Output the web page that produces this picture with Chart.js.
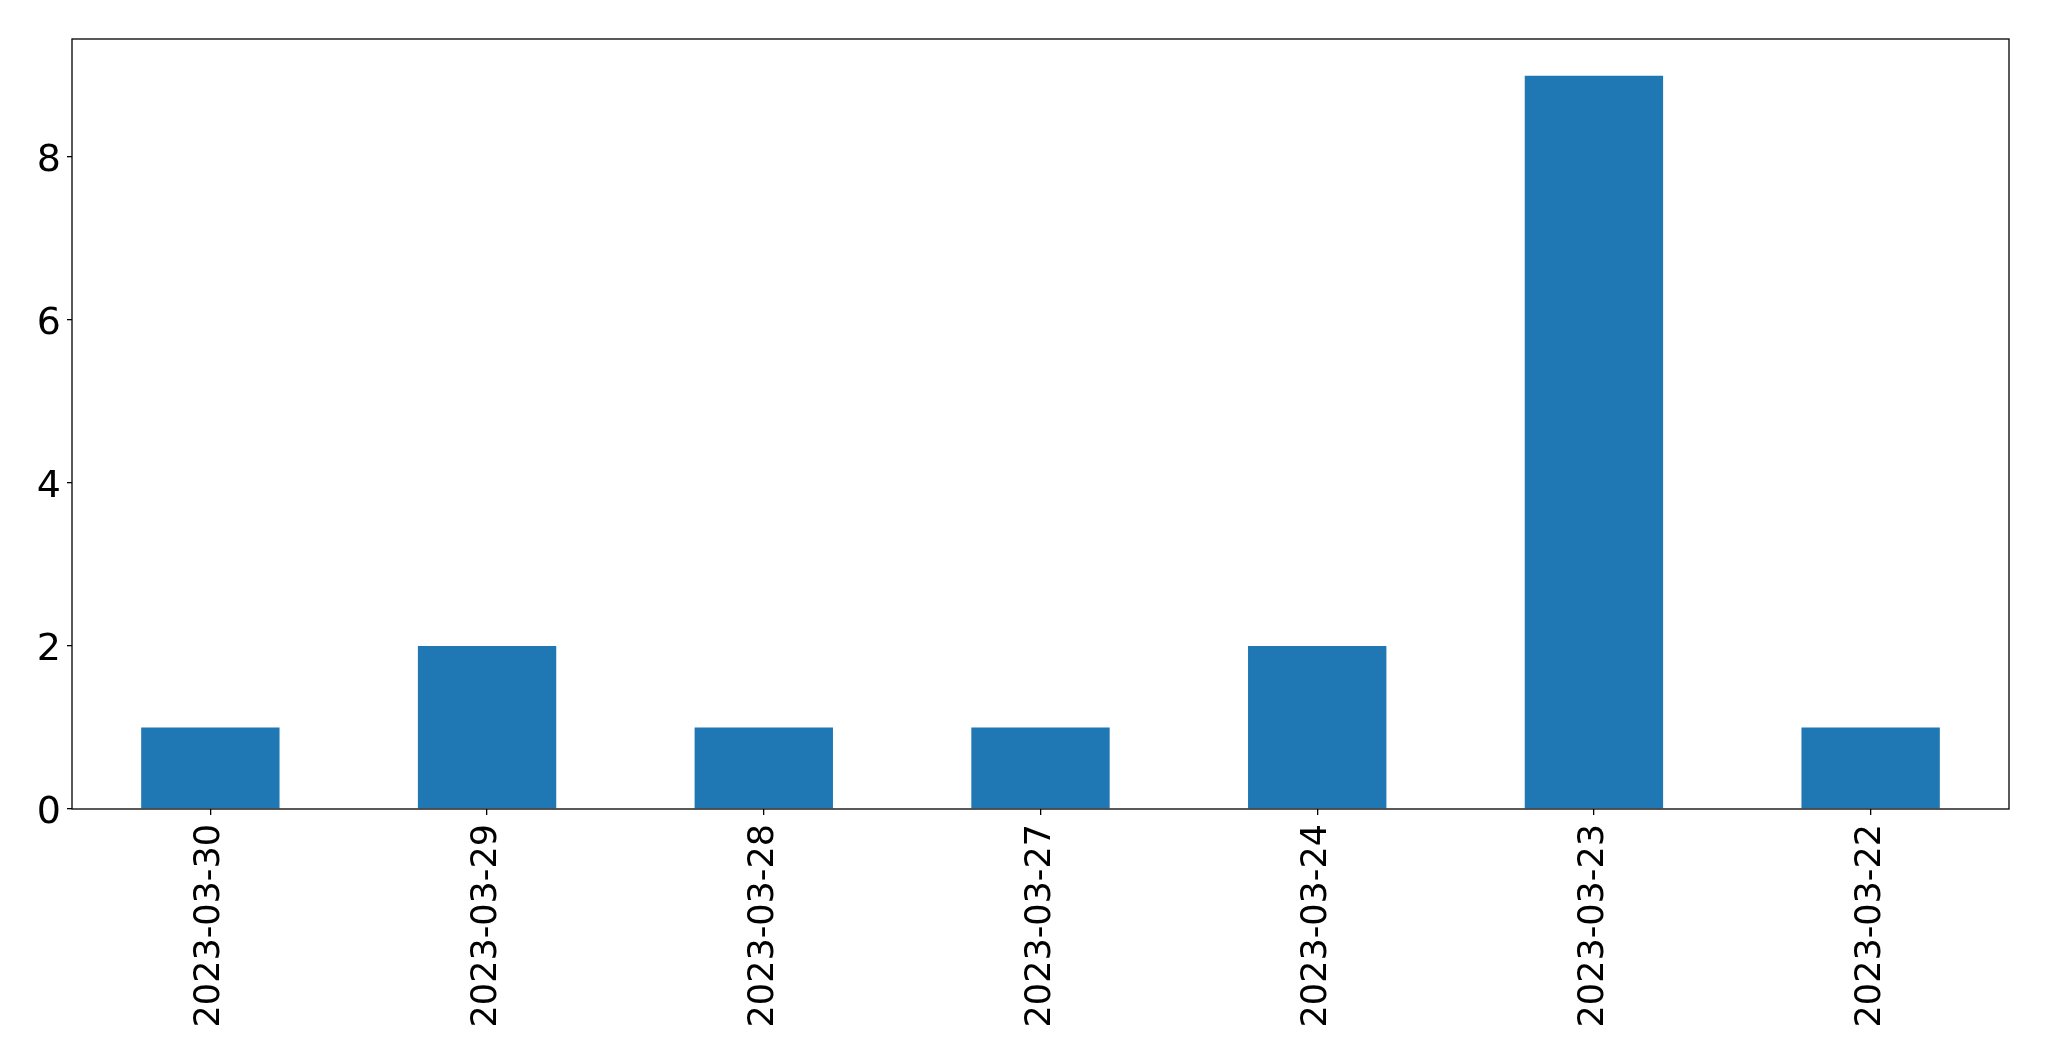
<!DOCTYPE html>
<html>
<head>
<meta charset="utf-8">
<script src="https://cdn.jsdelivr.net/npm/chart.js@4"></script>
<style>
  html, body { margin: 0; padding: 0; background: #fff; }
  #wrap { width: 2049px; height: 1061px; }
</style>
</head>
<body>
<div id="wrap"><canvas id="chart"></canvas></div>
<script>
// ===== Data =====
const dates = ["2023-03-30", "2023-03-29", "2023-03-28", "2023-03-27", "2023-03-24", "2023-03-23", "2023-03-22"];
const counts = [1, 2, 1, 1, 2, 9, 1];
const yTicks = [0, 2, 4, 6, 8];

// ===== Frame around plot area =====
const frame = {
  id: "frame",
  afterDraw(chart) {
    const a = chart.chartArea, ctx = chart.ctx;
    ctx.save();
    ctx.strokeStyle = "#000";
    ctx.lineWidth = 1.3;
    ctx.strokeRect(a.left, a.top, a.right - a.left, a.bottom - a.top);
    ctx.restore();
  }
};

new Chart(document.getElementById("chart"), {
  type: "bar",
  data: {
    labels: dates,
    datasets: [{ data: counts, backgroundColor: "#1f77b4", categoryPercentage: 0.5, barPercentage: 1 }]
  },
  options: {
    responsive: true,
    maintainAspectRatio: false,
    animation: false,
    layout: { padding: { left: 0, top: 39, right: 40, bottom: 0 } },
    plugins: { legend: { display: false }, tooltip: { enabled: false } },
    scales: {
      x: {
        grid: { display: true, offset: false, drawOnChartArea: false, tickLength: 6, color: "#000", lineWidth: 1.3 },
        border: { display: false },
        ticks: { color: "#000", font: { family: "'DejaVu Sans'", size: 35 }, minRotation: 90, maxRotation: 90, padding: 9 },
        afterFit(s) { s.height = 252; }
      },
      y: {
        min: 0,
        max: 9.45,
        grid: { display: true, drawOnChartArea: false, tickLength: 5, color: "#000", lineWidth: 1.3 },
        border: { display: false },
        ticks: { color: "#000", font: { family: "'DejaVu Sans'", size: 38 }, padding: 6, labelOffset: 4 },
        afterBuildTicks(s) { s.ticks = yTicks.map(v => ({ value: v })); },
        afterFit(s) { s.width = 72; }
      }
    }
  },
  plugins: [frame]
});
</script>
</body>
</html>
